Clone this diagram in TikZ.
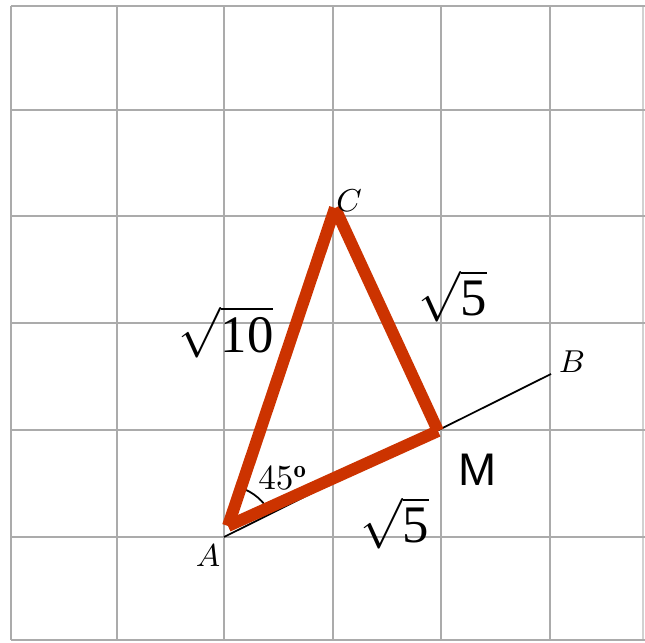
\documentclass[tikz,border=0pt]{standalone}
\usepackage{fontspec}
\newfontfamily\libserif{Liberation Serif}
\newfontfamily\libsans{Liberation Sans}
\begin{document}
\begin{tikzpicture}[x=0.01cm,y=-0.01cm,
  gridline/.style={draw=black!33,line width=0.6pt},
  redline/.style={draw={rgb,255:red,204;green,51;blue,0},line width=3.4pt,line cap=butt},
  thinline/.style={draw=black,line width=0.5pt},
  ptlabel/.style={inner sep=0pt,font=\fontsize{9}{11}\selectfont},
  rootlabel/.style={inner sep=0pt,font=\fontsize{15}{18}\selectfont},
  mlabel/.style={inner sep=0pt,font=\libsans\fontsize{13}{15}\selectfont},
  anglabel/.style={inner sep=0pt,font=\fontsize{10}{12}\selectfont}]
\useasboundingbox (0,0) rectangle (645,643);
\fill[white] (0,0) rectangle (645,643);
% grid
\foreach \x in {11,117,224,333,441,550}
  \draw[gridline] (\x,6) -- (\x,640);
\draw[draw=black!18,line width=0.6pt] (643,6) -- (643,640);
\foreach \y in {6,110,216,323,430,537,640}
  \draw[gridline] (11,\y) -- (645,\y);
% points
\coordinate (A) at (224,537);
\coordinate (M) at (441,430);
\coordinate (B) at (551,374);
\coordinate (Ar) at (228,526);
\coordinate (Cr) at (335,208);
\coordinate (Mr) at (438,431);
% thin line and angle arc
\draw[thinline] (A) -- (B);
\draw[thinline] ([shift={(-26.57:52)}]A) arc[start angle=-26.57,end angle=-71.57,radius=52];
% red triangle
\draw[redline] (Ar) -- (Cr);
\draw[redline] (Cr) -- (Mr);
\draw[redline] (Ar) -- (Mr);
% labels
\node[ptlabel] (la) at (208,556) {$A$};
\node[ptlabel] (lb) at (572,362) {$B$};
\node[ptlabel] (lc) at (349,201) {$C$};
\node[mlabel] (lm) at (478,470) {M};
\node[anglabel] (ang) at (283,478) {$45^{\mathbf{o}}$};
\node[rootlabel] (r10) at (226,332) {$\sqrt{\mbox{\libserif 10}}$};
\node[rootlabel] (r5a) at (453,296) {$\sqrt{\mbox{\libserif 5}}$};
\node[rootlabel] (r5b) at (395,523) {$\sqrt{\mbox{\libserif 5}}$};
\end{tikzpicture}
\end{document}
